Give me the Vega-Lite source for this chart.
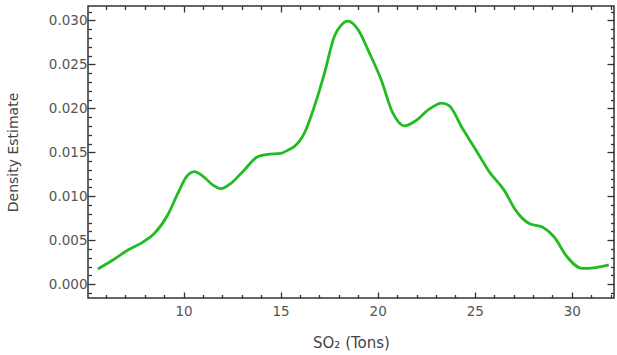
{
  "$schema": "https://vega.github.io/schema/vega-lite/v6.json",
  "autosize": "none",
  "width": 526,
  "height": 292,
  "padding": {"left": 88, "top": 6, "right": 3, "bottom": 57},
  "background": "white",
  "config": {
    "view": {"stroke": "#333333", "strokeWidth": 1.5},
    "axis": {
      "domain": false,
      "grid": false,
      "tickColor": "#333333",
      "tickWidth": 1.3,
      "labelFont": "DejaVu Sans",
      "labelFontSize": 13.5,
      "labelColor": "#555555",
      "titleFont": "DejaVu Sans",
      "titleFontWeight": "normal",
      "titleColor": "#444444"
    }
  },
  "data": {
    "values": [
      {"x": 5.59, "d": 0.00174},
      {"x": 6.36, "d": 0.00276},
      {"x": 7.14, "d": 0.0039},
      {"x": 7.91, "d": 0.0048},
      {"x": 8.51, "d": 0.0058},
      {"x": 9.19, "d": 0.0079},
      {"x": 9.70, "d": 0.0103},
      {"x": 10.13, "d": 0.01216},
      {"x": 10.56, "d": 0.0128},
      {"x": 10.99, "d": 0.0123},
      {"x": 11.50, "d": 0.0113},
      {"x": 11.93, "d": 0.01086},
      {"x": 12.44, "d": 0.01148},
      {"x": 13.13, "d": 0.0130},
      {"x": 13.81, "d": 0.0145},
      {"x": 14.33, "d": 0.01477},
      {"x": 15.01, "d": 0.01489},
      {"x": 15.46, "d": 0.01534},
      {"x": 15.70, "d": 0.01564},
      {"x": 16.23, "d": 0.0172},
      {"x": 16.75, "d": 0.0203},
      {"x": 17.26, "d": 0.0240},
      {"x": 17.77, "d": 0.0282},
      {"x": 18.10, "d": 0.0294},
      {"x": 18.46, "d": 0.0299},
      {"x": 18.97, "d": 0.0290},
      {"x": 19.57, "d": 0.0263},
      {"x": 20.17, "d": 0.0233},
      {"x": 20.77, "d": 0.0195},
      {"x": 21.37, "d": 0.0180},
      {"x": 21.97, "d": 0.0186},
      {"x": 22.65, "d": 0.0199},
      {"x": 23.30, "d": 0.0206},
      {"x": 23.68, "d": 0.0203},
      {"x": 24.37, "d": 0.0177},
      {"x": 25.05, "d": 0.0153},
      {"x": 25.74, "d": 0.0128},
      {"x": 26.51, "d": 0.0107},
      {"x": 27.11, "d": 0.0084},
      {"x": 27.80, "d": 0.0069},
      {"x": 28.48, "d": 0.0065},
      {"x": 29.08, "d": 0.0054},
      {"x": 29.76, "d": 0.0031},
      {"x": 30.53, "d": 0.0018},
      {"x": 31.22, "d": 0.0019},
      {"x": 31.90, "d": 0.0022}
    ]
  },
  "resolve": {"axis": {"x": "independent", "y": "independent"}},
  "layer": [
    {
      "mark": {"type": "line", "color": "#22bb22", "strokeWidth": 2.8, "interpolate": "monotone"},
      "encoding": {
        "x": {"field": "x", "type": "quantitative",
              "scale": {"domain": [5.08, 32.17], "nice": false, "zero": false},
              "axis": {"orient": "bottom", "values": [10, 15, 20, 25, 30], "tickSize": -6, "labelPadding": 12, "title": "SO₂ (Tons)", "titleFontSize": 15, "titlePadding": 18}},
        "y": {"field": "d", "type": "quantitative",
              "scale": {"domain": [-0.00156, 0.03163], "nice": false, "zero": false},
              "axis": {"orient": "left", "values": [0, 0.005, 0.01, 0.015, 0.02, 0.025, 0.03], "format": ".3f", "tickSize": -7, "labelPadding": 8, "title": "Density Estimate", "titleFontSize": 14, "titlePadding": 28}}
      }
    },
    {
      "mark": {"type": "line", "opacity": 0},
      "encoding": {
        "x": {"field": "x", "type": "quantitative",
              "axis": {"orient": "top", "values": [10, 15, 20, 25, 30], "tickSize": -6, "labels": false, "title": null}},
        "y": {"field": "d", "type": "quantitative",
              "axis": {"orient": "right", "values": [0, 0.005, 0.01, 0.015, 0.02, 0.025, 0.03], "tickSize": -7, "labels": false, "title": null}}
      }
    },
    {
      "mark": {"type": "line", "opacity": 0},
      "encoding": {
        "x": {"field": "x", "type": "quantitative",
              "axis": {"orient": "bottom", "values": [6,7,8,9,11,12,13,14,16,17,18,19,21,22,23,24,26,27,28,29,31,32], "tickSize": -3.5, "labels": false, "title": null}},
        "y": {"field": "d", "type": "quantitative",
              "axis": {"orient": "left", "values": [-0.001,0.001,0.002,0.003,0.004,0.006,0.007,0.008,0.009,0.011,0.012,0.013,0.014,0.016,0.017,0.018,0.019,0.021,0.022,0.023,0.024,0.026,0.027,0.028,0.029,0.031], "tickSize": -3.5, "labels": false, "title": null}}
      }
    },
    {
      "mark": {"type": "line", "opacity": 0},
      "encoding": {
        "x": {"field": "x", "type": "quantitative",
              "axis": {"orient": "top", "values": [6,7,8,9,11,12,13,14,16,17,18,19,21,22,23,24,26,27,28,29,31,32], "tickSize": -3.5, "labels": false, "title": null}},
        "y": {"field": "d", "type": "quantitative",
              "axis": {"orient": "right", "values": [-0.001,0.001,0.002,0.003,0.004,0.006,0.007,0.008,0.009,0.011,0.012,0.013,0.014,0.016,0.017,0.018,0.019,0.021,0.022,0.023,0.024,0.026,0.027,0.028,0.029,0.031], "tickSize": -3.5, "labels": false, "title": null}}
      }
    }
  ]
}
